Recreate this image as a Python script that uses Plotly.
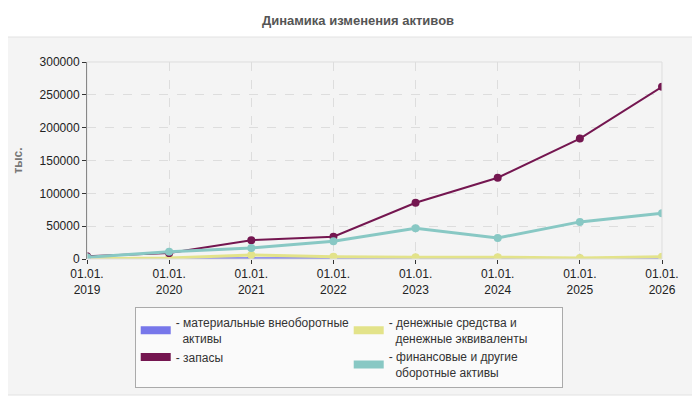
"""
Динамика изменения активов - line chart with plotly
"""

import plotly.graph_objects as go

# data (тыс.)
dates = ["01.01.<br>2019", "01.01.<br>2020", "01.01.<br>2021", "01.01.<br>2022",
         "01.01.<br>2023", "01.01.<br>2024", "01.01.<br>2025", "01.01.<br>2026"]
material = [200, 300, 300, 300, 300, 300, 300, 800]
money = [500, 1500, 6000, 3500, 2500, 2800, 1500, 3500]
zapasy = [4000, 9000, 28600, 34000, 85600, 123800, 183400, 262300]
finance = [2600, 11000, 16800, 27000, 46900, 32100, 56500, 69800]

series_names = [
    "- материальные внеоборотные<br>\u00a0\u00a0активы",
    "- денежные средства и<br>\u00a0\u00a0денежные эквиваленты",
    "- запасы",
    "- финансовые и другие<br>\u00a0\u00a0оборотные активы",
]
series_values = [material, money, zapasy, finance]
colours = ["#7777ea", "#e3e38a", "#741650", "#88c8c4"]
widths = [3, 3, 2, 3]
symbols = ["diamond", "circle", "circle", "circle"]

fig = go.Figure()

# actual lines (no legend)
for vals, col, w, sym in zip(series_values, colours, widths, symbols):
    fig.add_trace(go.Scatter(
        x=dates, y=vals, mode="lines+markers",
        line=dict(color=col, width=w),
        marker=dict(color=col, size=8, symbol=sym),
        showlegend=False, hoverinfo="y"
    ))

# legend entries with block swatches
for name, col in zip(series_names, colours):
    fig.add_trace(go.Scatter(
        x=[None], y=[None], mode="lines", name=name,
        line=dict(color=col, width=8)
    ))

# page body has an 8px margin, so everything is placed 8px up/left
fig.update_layout(
    width=700, height=400,
    margin=dict(l=79, r=46, t=54, b=149),
    paper_bgcolor="white",
    plot_bgcolor="#fcfcf6",
    font=dict(family="Liberation Sans, Arial", size=12, color="#222"),
    title=dict(text="<b>Динамика изменения активов</b>", x=0.5, xanchor="center",
               y=0.97, yanchor="middle",
               font=dict(family="Liberation Sans, Arial", size=13, color="#555")),
    legend=dict(orientation="h", x=0.083, xanchor="left", y=-0.245, yanchor="top",
                bgcolor="#fafafa", bordercolor="#aaaaaa", borderwidth=1,
                entrywidth=168, itemwidth=30, tracegroupgap=0,
                font=dict(size=12, color="#333")),
    shapes=[
        # grey panel behind the chart
        dict(type="rect", xref="paper", yref="paper", layer="below",
             x0=-0.1478, x1=1.0609, y0=-0.6904, y1=1.1269,
             fillcolor="#f4f4f4", line=dict(color="#e2e2e2", width=1)),
        # light plot border
        dict(type="rect", xref="paper", yref="paper", layer="above",
             x0=0, x1=1, y0=0, y1=1, line=dict(color="#dddddd", width=1)),
    ],
)

fig.update_xaxes(
    type="category", range=[0, len(dates) - 1], automargin=False,
    showgrid=True, gridcolor="#dddddd", griddash="dash", gridwidth=1,
    ticks="outside", ticklen=4, tickcolor="#333",
    tickfont=dict(size=12, color="#222"),
    showline=False, zeroline=False
)
fig.update_yaxes(
    range=[0, 300000], dtick=50000, tickformat="d", automargin=False,
    showgrid=True, gridcolor="#dddddd", griddash="dash", gridwidth=1,
    showline=True, linecolor="#333", linewidth=1,
    ticks="outside", ticklen=4, tickcolor="#333",
    tickfont=dict(size=12, color="#222"),
    zeroline=False,
    title=dict(text="<b>тыс.</b>", standoff=14, font=dict(size=12, color="#777"))
)

fig.write_html("out.html")
